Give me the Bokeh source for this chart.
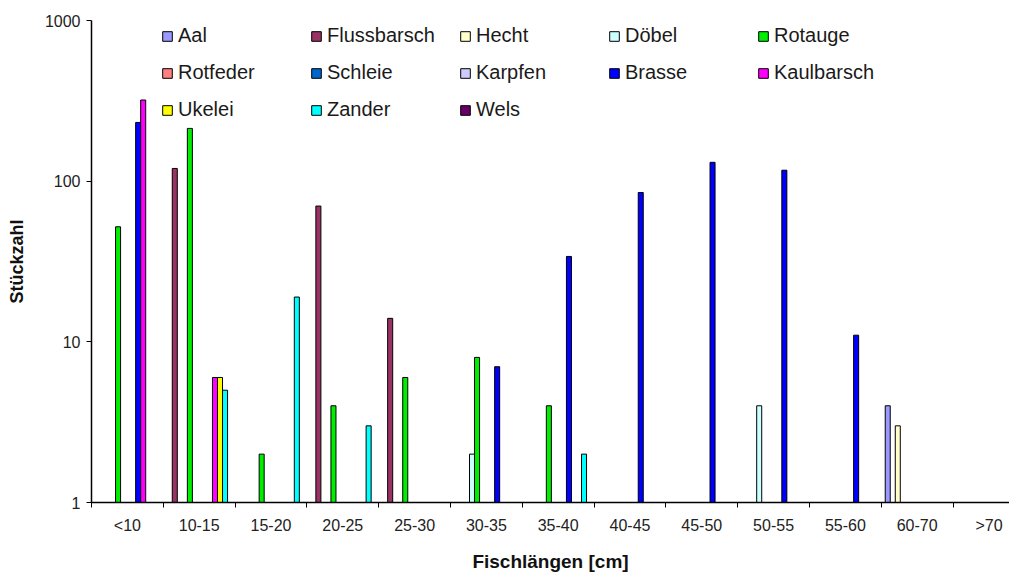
from bokeh.plotting import figure
from bokeh.models import (Range1d, FixedTicker, CustomJSTickFormatter, Legend, LegendItem,
                          ColumnDataSource)
from bokeh.embed import file_html
from bokeh.resources import INLINE

categories = ["<10", "10-15", "15-20", "20-25", "25-30", "30-35", "35-40",
              "40-45", "45-50", "50-55", "55-60", "60-70", ">70"]

series_names = ["Aal", "Flussbarsch", "Hecht", "Döbel", "Rotauge",
                "Rotfeder", "Schleie", "Karpfen", "Brasse", "Kaulbarsch",
                "Ukelei", "Zander", "Wels"]

series_colors = ["#9999FF", "#993366", "#FFFFCC", "#CCFFFF", "#00EE00",
                 "#FF8080", "#0066CC", "#CCCCFF", "#0000FF", "#FF00FF",
                 "#FFFF00", "#00FFFF", "#660066"]

# counts per length class (0 = no fish)
aal         = [0,   0,   0,  0,  0, 0,  0,  0,   0,   0,  0, 4, 0]
flussbarsch = [0,   120, 0,  70, 14, 0, 0,  0,   0,   0,  0, 0, 0]
hecht       = [0,   0,   0,  0,  0, 0,  0,  0,   0,   0,  0, 3, 0]
doebel      = [0,   0,   0,  0,  0, 2,  0,  0,   0,   4,  0, 0, 0]
rotauge     = [52,  213, 2,  4,  6, 8,  4,  0,   0,   0,  0, 0, 0]
rotfeder    = [0,   0,   0,  0,  0, 0,  0,  0,   0,   0,  0, 0, 0]
schleie     = [0,   0,   0,  0,  0, 0,  0,  0,   0,   0,  0, 0, 0]
karpfen     = [0,   0,   0,  0,  0, 0,  0,  0,   0,   0,  0, 0, 0]
brasse      = [232, 0,   0,  0,  0, 7,  34, 85,  131, 117, 11, 0, 0]
kaulbarsch  = [320, 6,   0,  0,  0, 0,  0,  0,   0,   0,  0, 0, 0]
ukelei      = [0,   6,   0,  0,  0, 0,  0,  0,   0,   0,  0, 0, 0]
zander      = [0,   5,   19, 3,  0, 0,  2,  0,   0,   0,  0, 0, 5]
wels        = [0,   0,   0,  0,  0, 0,  0,  0,   0,   0,  0, 0, 0]

series_values = [aal, flussbarsch, hecht, doebel, rotauge, rotfeder, schleie,
                 karpfen, brasse, kaulbarsch, ukelei, zander, wels]

FONT = "Liberation Sans"
n_cat = len(categories)
n_ser = len(series_names)
step = 0.07  # slot width within a category

p = figure(width=1009, height=574, output_backend="svg", toolbar_location=None,
           x_range=Range1d(0, 12.786), y_range=Range1d(1, 1000), y_axis_type="log",
           min_border_left=91, min_border_right=0, min_border_top=20, min_border_bottom=72)
p.outline_line_color = None
p.xgrid.visible = False
p.ygrid.visible = False
p.background_fill_color = "white"

items = []
for k in range(n_ser):
    xs = [c + 0.51 + (k - (n_ser - 1) / 2) * step for c in range(n_cat)]
    tops = [v if v > 0 else float("nan") for v in series_values[k]]
    src = ColumnDataSource(dict(x=xs, top=tops, bottom=[1] * n_cat))
    r = p.vbar(x="x", top="top", bottom="bottom", width=step, source=src,
               fill_color=series_colors[k], line_color="black", line_width=1)
    items.append(LegendItem(label=series_names[k], renderers=[r]))

legend = Legend(items=items, ncols=5, orientation="horizontal", location=(70, 381),
                glyph_width=12, glyph_height=12, label_standoff=5,
                label_width=118, spacing=14, padding=0, margin=0,
                border_line_color=None, background_fill_alpha=0,
                label_text_font=FONT, label_text_font_size="20px",
                label_text_color="#1a1a1a")
p.add_layout(legend, "center")

# x axis: labels at category centres, tick marks at boundaries
p.xaxis.ticker = FixedTicker(ticks=[i + 0.5 for i in range(n_cat)],
                             minor_ticks=list(range(n_cat + 1)))
p.xaxis.formatter = CustomJSTickFormatter(args=dict(cats=categories),
                                          code="return cats[Math.floor(tick)] || '';")
p.xaxis.major_tick_out = 0
p.xaxis.major_tick_in = 0
p.xaxis.minor_tick_out = 5
p.xaxis.minor_tick_in = 0
p.xaxis.minor_tick_line_color = "black"
p.xaxis.major_label_standoff = 9
p.xaxis.axis_label = "Fischlängen [cm]"
p.xaxis.axis_label_standoff = 14

p.yaxis.ticker = FixedTicker(ticks=[1, 10, 100, 1000], minor_ticks=[])
p.yaxis.formatter = CustomJSTickFormatter(code="return tick.toFixed(0);")
p.yaxis.major_tick_out = 5
p.yaxis.major_tick_in = 0
p.yaxis.minor_tick_line_color = None
p.yaxis.major_label_standoff = 6
p.yaxis.axis_label = "Stückzahl"
p.yaxis.axis_label_standoff = 15

for ax in (p.xaxis, p.yaxis):
    ax.axis_line_color = "black"
    ax.axis_line_width = 1.5
    ax.major_tick_line_color = "black"
    ax.major_label_text_font = FONT
    ax.major_label_text_font_size = "16px"
    ax.major_label_text_color = "#222222"
    ax.axis_label_text_font = FONT
    ax.axis_label_text_font_style = "bold"
    ax.axis_label_text_color = "#111111"
p.xaxis.axis_label_text_font_size = "19px"
p.yaxis.axis_label_text_font_size = "18px"

open("out.html", "w").write(file_html(p, INLINE))
